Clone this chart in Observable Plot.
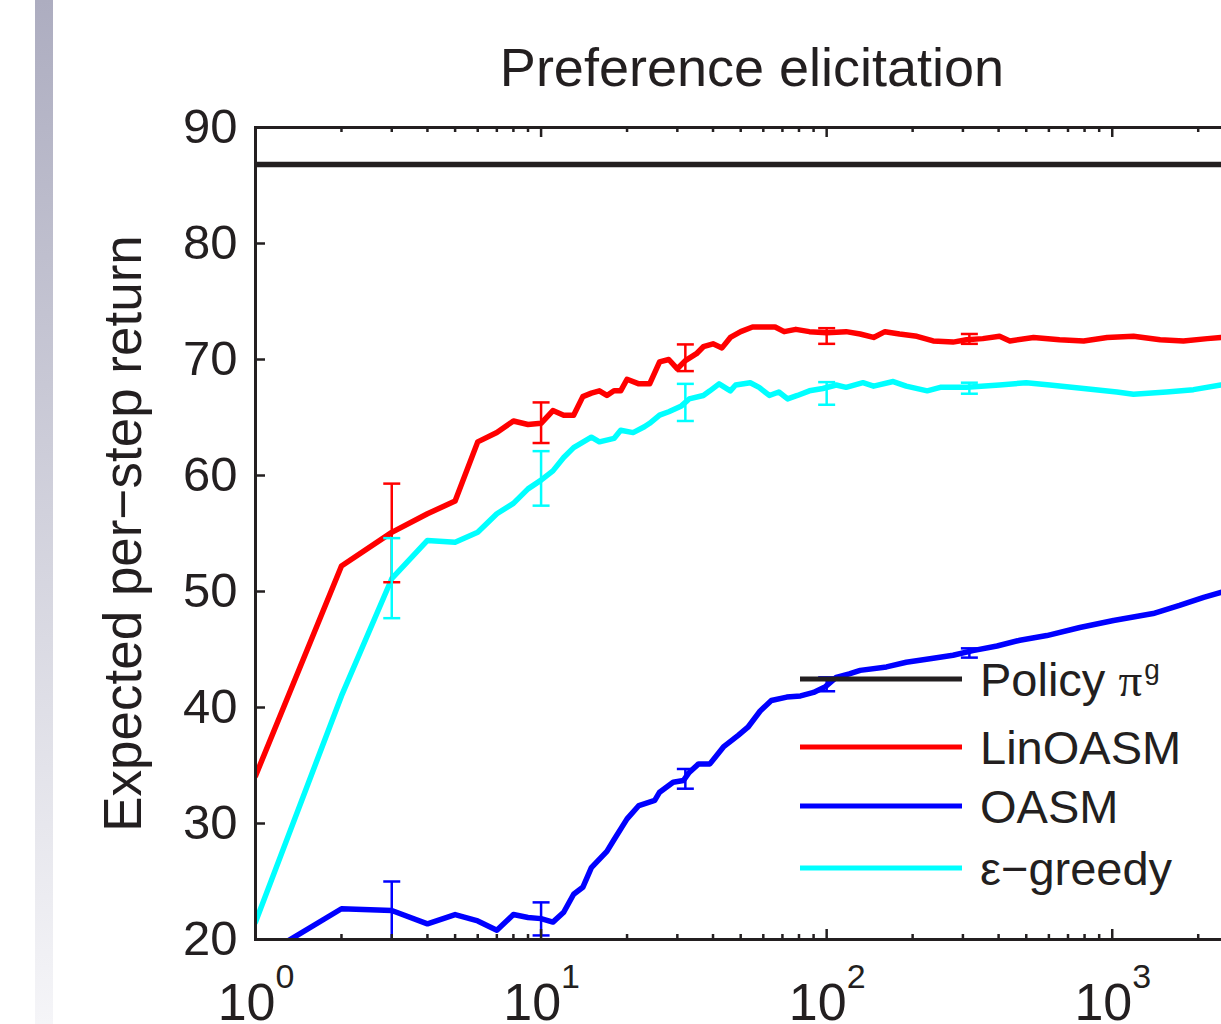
<!DOCTYPE html>
<html>
<head>
<meta charset="utf-8">
<script src="https://cdn.jsdelivr.net/npm/d3@7"></script>
<script src="https://cdn.jsdelivr.net/npm/@observablehq/plot@0.6"></script>
<style>
  html, body { margin: 0; padding: 0; background: #fff; overflow: hidden; width: 1221px; height: 1024px; }
  #wrap { position: relative; width: 1221px; height: 1024px; overflow: hidden; }
  #bar { position: absolute; left: 35px; top: 0; width: 18px; height: 1024px; background: linear-gradient(to bottom, #adadc0, #f5f5f8); }
  #chart { position: absolute; left: 0; top: 0; width: 1300px; height: 1024px; }
</style>
</head>
<body>
<div id="wrap"><div id="bar"></div><div id="chart"></div></div>
<script>
// ---------- data ----------
const title = "Preference elicitation";
const yLabel = "Expected per\u2212step return";
const seriesNames = ["Policy \u03c0", "LinOASM", "OASM", "\u03b5\u2212greedy"];
const seriesColors = ["#231f20", "#ff0000", "#0000ff", "#00ffff"];

const policyValue = 86.8;

const linX = [1,2,3,4,5,6,7,8,9,10,11,12,13,14,15,16,17,18,19,20,22,24,26,28,30,32,35,37,40,43,46,50,55,60,66,71,78,87,100,117,131,146,160,180,207,236,277,309,352,403,438,530,654,794,960,1187,1472,1775,2152,2400,3000];
const linY = [34.1,52.2,55.1,56.7,57.8,62.9,63.7,64.7,64.4,64.5,65.6,65.2,65.2,66.8,67.1,67.3,66.9,67.3,67.3,68.3,67.9,67.9,69.8,70.0,69.2,69.9,70.5,71.1,71.35,71.0,71.9,72.4,72.8,72.8,72.8,72.4,72.6,72.4,72.3,72.4,72.2,71.9,72.4,72.2,72.0,71.6,71.5,71.7,71.8,72.0,71.6,71.9,71.7,71.6,71.9,72.0,71.7,71.6,71.8,71.9,71.9];

const oasmX = [1,2,3,4,5,6,7,8,9,10,11,12,13,14,15,17,18,20,22,25,26,29,31.5,33,35.6,39,43.5,49,53,58.5,64,72.5,81,90,99,108,120,131,162,190,230,277,325,395,475,590,770,1010,1390,1720,2090,2420,3000];
const oasmY = [18.2,22.65,22.5,21.35,22.15,21.6,20.8,22.15,21.9,21.8,21.5,22.35,23.9,24.5,26.2,27.6,28.6,30.4,31.55,32.0,32.7,33.56,33.7,34.4,35.14,35.14,36.6,37.6,38.3,39.7,40.6,40.9,41.0,41.3,41.8,42.6,42.9,43.2,43.5,43.9,44.2,44.5,44.9,45.3,45.8,46.2,46.9,47.5,48.1,48.8,49.5,49.95,50.6];

const epsX = [1,2,3,4,5,6,7,8,9,10,11,12,13,15,16,18,19,21,23,24,26,28,31,33,37,39,42,46,48,54,58,63,68,73,79,87,97,108,117,134,146,171,190,225,250,309,403,500,605,794,1038,1187,1550,1925,2400,3000];
const epsY = [21.5,41.0,51.1,54.4,54.25,55.1,56.7,57.6,58.85,59.6,60.4,61.55,62.4,63.3,62.9,63.2,63.9,63.7,64.2,64.5,65.2,65.5,66.0,66.6,66.9,67.3,67.9,67.3,67.8,68.0,67.6,66.9,67.2,66.6,66.9,67.3,67.5,67.8,67.6,68.0,67.7,68.1,67.7,67.3,67.6,67.6,67.8,68.0,67.8,67.5,67.2,67.0,67.2,67.4,67.8,67.9];

const errX = [3, 10, 32, 100, 316];
const linLo = [50.8, 62.8, 69.0, 71.35, 71.35];
const linHi = [59.3, 66.3, 71.3, 72.7, 72.2];
const oasmLo = [20.0, 20.35, 33.0, 41.4, 44.3];
const oasmHi = [25.0, 23.2, 34.7, 42.6, 45.1];
const epsLo = [47.7, 57.4, 64.7, 66.1, 67.05];
const epsHi = [54.6, 62.1, 67.9, 68.05, 68.0];

const xDomain = [1, 3000];
const yDomain = [20, 90];
const yTicks = [20, 30, 40, 50, 60, 70, 80, 90];
const xMajor = [1, 10, 100, 1000];
const xExponents = ["0", "1", "2", "3"];
const xMinor = [2,3,4,5,6,7,8,9,20,30,40,50,60,70,80,90,200,300,400,500,600,700,800,900,2000,3000];

// ---------- build ----------
const pts = (xs, ys) => xs.map((x, i) => ({x, y: ys[i]}));
const errs = (lo, hi) => errX.map((x, i) => ({x, lo: lo[i], hi: hi[i]}));

const W = 1300, H = 1024, mL = 255, mR = 52, mT = 127, mB = 85;
const frameW = W - mL - mR, frameH = H - mT - mB;
const ink = "#231f20";
const font = "'Liberation Sans', Arial, Helvetica, sans-serif";

const capSymbol = { draw(ctx) { ctx.moveTo(-8.5, 0); ctx.lineTo(8.5, 0); } };

function errMarks(data, color) {
  return [
    Plot.ruleX(data, {x: "x", y1: "lo", y2: "hi", stroke: color, strokeWidth: 2.5}),
    Plot.dot(data, {x: "x", y: "lo", symbol: capSymbol, stroke: color, strokeWidth: 2.5, fill: "none", r: 5}),
    Plot.dot(data, {x: "x", y: "hi", symbol: capSymbol, stroke: color, strokeWidth: 2.5, fill: "none", r: 5})
  ];
}

const lw = 5.5;
const chart = Plot.plot({
  width: W, height: H,
  marginLeft: mL, marginRight: mR, marginTop: mT, marginBottom: mB,
  x: {type: "log", domain: xDomain, axis: null},
  y: {domain: yDomain, axis: null},
  style: {fontFamily: font, color: ink, background: "transparent", overflow: "visible"},
  marks: [
    Plot.ruleY([policyValue], {stroke: seriesColors[0], strokeWidth: lw}),
    Plot.line(pts(linX, linY), {x: "x", y: "y", stroke: seriesColors[1], strokeWidth: lw, clip: true}),
    Plot.line(pts(oasmX, oasmY), {x: "x", y: "y", stroke: seriesColors[2], strokeWidth: lw, clip: true}),
    Plot.line(pts(epsX, epsY), {x: "x", y: "y", stroke: seriesColors[3], strokeWidth: lw, clip: true}),
    ...errMarks(errs(linLo, linHi), seriesColors[1]),
    ...errMarks(errs(oasmLo, oasmHi), seriesColors[2]),
    ...errMarks(errs(epsLo, epsHi), seriesColors[3]),
    // inward ticks
    Plot.tickX(xMajor, {x: d => d, stroke: ink, strokeWidth: 2.5, insetTop: frameH - 10}),
    Plot.tickX(xMajor, {x: d => d, stroke: ink, strokeWidth: 2.5, insetBottom: frameH - 10}),
    Plot.tickX(xMinor, {x: d => d, stroke: ink, strokeWidth: 2.5, insetTop: frameH - 5}),
    Plot.tickX(xMinor, {x: d => d, stroke: ink, strokeWidth: 2.5, insetBottom: frameH - 5}),
    Plot.tickY(yTicks, {y: d => d, stroke: ink, strokeWidth: 2.5, insetRight: frameW - 10}),
    Plot.tickY(yTicks, {y: d => d, stroke: ink, strokeWidth: 2.5, insetLeft: frameW - 10}),
    Plot.frame({stroke: ink, strokeWidth: 3}),
    // tick labels
    Plot.text(yTicks, {y: d => d, text: d => String(d), frameAnchor: "left", textAnchor: "end", dx: -18, fontSize: 49, fill: ink}),
    Plot.text(xMajor, {x: d => d, text: () => "10", frameAnchor: "bottom", textAnchor: "end", lineAnchor: "bottom", dx: 20, dy: 80, fontSize: 52, fill: ink}),
    Plot.text(xMajor, {x: d => d, text: (d, i) => xExponents[i], frameAnchor: "bottom", textAnchor: "start", lineAnchor: "bottom", dx: 20, dy: 48, fontSize: 34, fill: ink}),
    // title & y label
    Plot.text([title], {text: d => d, frameAnchor: "top", lineAnchor: "bottom", dy: -42, fontSize: 54, fill: ink}),
    Plot.text([yLabel], {text: d => d, frameAnchor: "left", textAnchor: "middle", lineAnchor: "middle", rotate: -90, dx: -131, fontSize: 53, fill: ink})
  ]
});
chart.style.maxWidth = "none";
chart.style.width = W + "px";
chart.style.height = H + "px";
document.getElementById("chart").appendChild(chart);

// ---------- legend (inside axes) ----------
const svg = d3.select(chart);
const leg = svg.append("g").attr("font-family", font).attr("fill", ink).attr("text-anchor", "start");
const legX0 = 800, legX1 = 962, legTextX = 980;
const legY = [679, 747, 806, 868];
seriesNames.forEach((name, i) => {
  leg.append("line").attr("x1", legX0).attr("x2", legX1).attr("y1", legY[i]).attr("y2", legY[i])
    .attr("stroke", seriesColors[i]).attr("stroke-width", 5);
  const t = leg.append("text").attr("x", legTextX).attr("y", legY[i] + 16.5).attr("font-size", 47).attr("text-anchor", "start");
  if (i === 0) {
    t.append("tspan").text("Policy ");
    t.append("tspan").attr("font-family", "'Liberation Serif', 'Times New Roman', serif").text("\u03c0");
    t.append("tspan").attr("font-size", 28).attr("dy", -17).attr("dx", 2).text("g");
  } else {
    t.text(name);
  }
});
</script>
</body>
</html>
